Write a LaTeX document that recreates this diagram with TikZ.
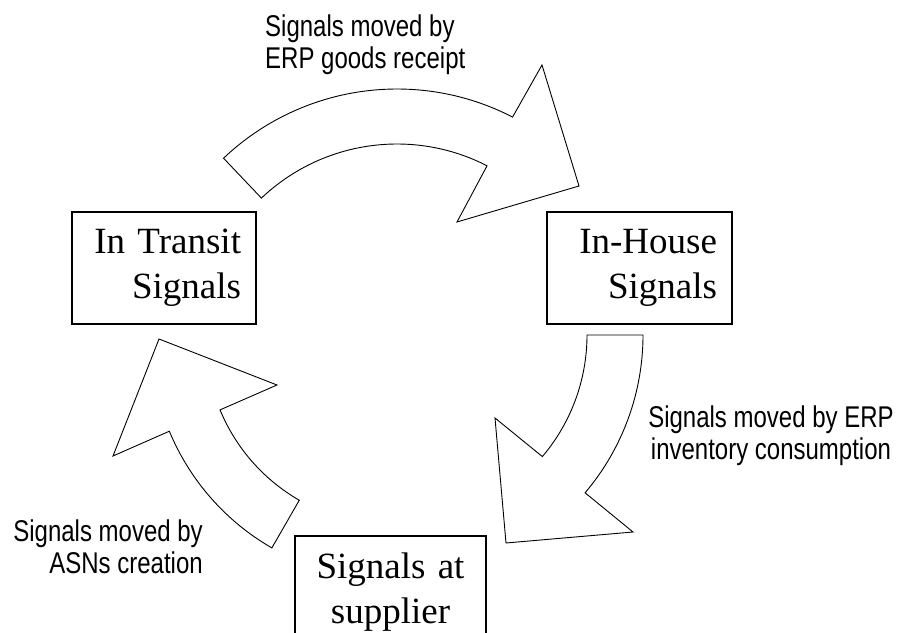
\documentclass[tikz,border=0pt]{standalone}
\usepackage{fontspec}
\setmainfont{Liberation Serif}
\newfontfamily\lblfont{Liberation Sans}
\usepackage{graphicx}
\begin{document}
\begin{tikzpicture}[x=1pt,y=1pt,
  box/.style={draw=black, line width=1.1pt, fill=white, inner xsep=15pt, inner ysep=0pt,
    minimum height=112pt, font=\fontsize{37}{45}\selectfont},
  arr/.style={draw=black, fill=white, line width=0.9pt, line join=miter},
  lbl/.style={inner sep=0pt, font=\lblfont\fontsize{30}{31.5}\selectfont}]
\useasboundingbox (0,0) rectangle (897,632);
\fill[white] (0,0) rectangle (897,632);
\clip (0,0) rectangle (897,632);

% boxes
\node[box, text width=154pt, align=right] (transit) at (164,364) {In Transit\\Signals};
\node[box, text width=155pt, align=right] (house) at (639.5,364) {In-House\\Signals};
\node[box, text width=161pt, align=center] (supplier) at (390.5,40) {Signals at\\supplier};

% centres of the curved arrows
\coordinate (ct) at (397,291);
\coordinate (cr) at (399,297);
\coordinate (cl) at (392,293);

% top arrow
\draw[arr] ([shift={(133.5:252)}]ct) arc[start angle=133.5, end angle=62.7, radius=252]
  -- (542,567) -- (579,446) -- (457,410)
  -- ([shift={(62.8:197)}]ct) arc[start angle=62.8, end angle=133.5, radius=197] -- cycle;

% right arrow
\draw[arr] ([shift={(0:244)}]cr) arc[start angle=0, end angle=-40.3, radius=244]
  -- (633,100) -- (506,89) -- (495,214)
  -- ([shift={(-40.3:188)}]cr) arc[start angle=-40.3, end angle=0, radius=188] -- cycle;

% left arrow
\draw[arr] ([shift={(202.5:241)}]cl) arc[start angle=202.5, end angle=240.1, radius=241]
  -- ([shift={(240.1:186)}]cl) arc[start angle=240.1, end angle=202.4, radius=186]
  -- (277,247) -- (159,293) -- (113,176) -- cycle;

% labels
\node[lbl, anchor=base west] (ltop) at (265,595)
  {\scalebox{0.8}[1]{\begin{tabular}[t]{@{}l@{}}Signals moved by\\ERP goods receipt\end{tabular}}};
\node[lbl, anchor=base] (lright) at (771,204)
  {\scalebox{0.8}[1]{\begin{tabular}[t]{@{}c@{}}Signals moved by ERP\\inventory consumption\end{tabular}}};
\node[lbl, anchor=base east] (lleft) at (203,90)
  {\scalebox{0.8}[1]{\begin{tabular}[t]{@{}r@{}}Signals moved by\\ASNs creation\end{tabular}}};
\end{tikzpicture}
\end{document}
